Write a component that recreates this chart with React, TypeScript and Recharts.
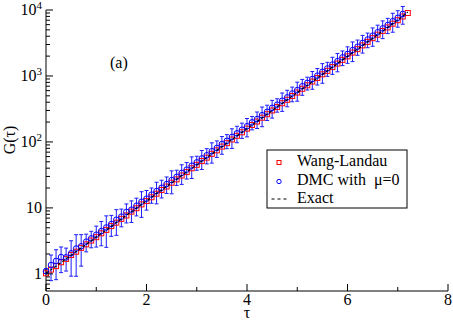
import React from "react";
import { ScatterChart, Scatter, XAxis, YAxis, ErrorBar } from "recharts";

// imaginary time grid (both Monte Carlo sets)
const tau = [
  0, 0.1, 0.2, 0.3, 0.4, 0.5, 0.6, 0.7, 0.8, 0.9, 1.0, 1.1, 1.2, 1.3, 1.4, 1.5, 1.6, 1.7, 1.8, 1.9,
  2.0, 2.1, 2.2, 2.3, 2.4, 2.5, 2.6, 2.7, 2.8, 2.9, 3.0, 3.1, 3.2, 3.3, 3.4, 3.5, 3.6, 3.7, 3.8, 3.9,
  4.0, 4.1, 4.2, 4.3, 4.4, 4.5, 4.6, 4.7, 4.8, 4.9, 5.0, 5.1, 5.2, 5.3, 5.4, 5.5, 5.6, 5.7, 5.8, 5.9,
  6.0, 6.1, 6.2, 6.3, 6.4, 6.5, 6.6, 6.7, 6.8, 6.9, 7.0, 7.1, 7.2,
];

const wangLandau = [
  1.02, 1.16, 1.31, 1.5, 1.69, 1.93, 2.17, 2.48, 2.8, 3.2, 3.6, 4.12, 4.64, 5.3, 5.97, 6.82, 7.68, 8.78, 9.88, 11.3,
  12.7, 14.5, 16.4, 18.7, 21.1, 24.1, 27.1, 31.0, 34.9, 39.9, 45.0, 51.3, 57.8, 66.0, 74.5, 85.0, 95.8, 109, 124, 140,
  159, 181, 204, 233, 263, 300, 338, 386, 436, 497, 561, 640, 722, 823, 930, 1060, 1196, 1364, 1540, 1755,
  1982, 2260, 2552, 2908, 3285, 3742, 4228, 4817, 5443, 6200, 7003, 7978, 9010,
];

const dmc = [
  1.1, 1.36, 1.57, 1.8, 1.78, 2.05, 2.42, 2.62, 3.08, 3.45, 3.92, 4.45, 5.05, 5.7, 6.62, 7.38, 8.7, 9.4, 10.8, 12.4,
  13.8, 15.9, 18.0, 20.2, 23.0, 26.4, 29.6, 33.9, 38.0, 43.6, 49.0, 56.2, 62.8, 72.3, 81.0, 92.8, 104, 119, 135, 153,
  173, 198, 222, 254, 286, 328, 367, 421, 474, 542, 610, 698, 786, 898, 1012, 1157, 1300, 1488, 1676, 1915,
  2158, 2466, 2778, 3172, 3574, 4082, 4600, 5256, 5925, 6765, 7620, 8700,
];

// half length of each DMC error bar, as a fraction of the value
const dmcRelErr = [
  0.08, 0.42, 0.48, 0.42, 0.38, 0.55, 0.62, 0.5, 0.3, 0.28, 0.35, 0.4, 0.5, 0.35, 0.42, 0.3, 0.32, 0.36, 0.3, 0.42,
  0.33, 0.26, 0.36, 0.3, 0.28, 0.38, 0.26, 0.33, 0.28, 0.36, 0.24, 0.32, 0.26, 0.34, 0.28, 0.3, 0.24, 0.33, 0.28, 0.26,
  0.31, 0.23, 0.28, 0.33, 0.26, 0.3, 0.23, 0.31, 0.28, 0.25, 0.32, 0.27, 0.22, 0.3, 0.28, 0.33, 0.24, 0.29, 0.31, 0.25,
  0.28, 0.33, 0.26, 0.3, 0.25, 0.31, 0.28, 0.3, 0.26, 0.32, 0.28, 0.3,
];

const exactTau = [0, 1, 2, 3, 4, 5, 6, 7, 7.2];
const exactG = [1.02, 3.61, 12.8, 45.1, 159, 562, 1986, 7015, 9300];

const xTicks = [0, 1, 2, 3, 4, 5, 6, 7, 8];
const yTicks = [
  0.6, 0.7, 0.8, 0.9, 1, 2, 3, 4, 5, 6, 7, 8, 9, 10, 20, 30, 40, 50, 60, 70, 80, 90,
  100, 200, 300, 400, 500, 600, 700, 800, 900, 1000, 2000, 3000, 4000, 5000, 6000, 7000, 8000, 9000, 10000,
];

const wlRows = wangLandau.map((g, i) => ({ t: tau[i], g }));
const dmcRows = dmc.map((g, i) => ({ t: tau[i], g, err: g * dmcRelErr[i] }));
const exactRows = exactG.map((g, i) => ({ t: exactTau[i], g }));

const FONT = "'Liberation Serif', 'DejaVu Serif', 'Times New Roman', Times, serif";
const txt = { fontFamily: FONT, fontSize: 16, fill: "#000" };
const W = 453;
const H = 321;

const isMajor = (v: number) => {
  const l = Math.log10(v);
  return Math.abs(l - Math.round(l)) < 1e-9;
};

function LeftTick({ x, y, payload }: any) {
  const v = payload.value;
  const major = isMajor(v);
  const k = Math.round(Math.log10(v));
  return (
    <g>
      <line x1={x} x2={x + (major ? 7 : 4)} y1={y} y2={y} stroke="#000" />
      {major && (
        <text x={x - 4} y={y + 5} textAnchor="end" style={txt}>
          {k === 0 ? "1" : k === 1 ? "10" : (
            <>
              10<tspan dy={-6} style={{ fontSize: 11 }}>{k}</tspan>
            </>
          )}
        </text>
      )}
    </g>
  );
}

function RightTick({ x, y, payload }: any) {
  const major = isMajor(payload.value);
  return <line x1={x} x2={x - (major ? 7 : 4)} y1={y} y2={y} stroke="#000" />;
}

function BottomTick({ x, y, payload }: any) {
  const major = payload.value % 2 === 0;
  return (
    <g>
      <line x1={x} x2={x} y1={y} y2={y - (major ? 7 : 4)} stroke="#000" />
      {major && (
        <text x={x} y={y + 14} textAnchor="middle" style={txt}>
          {payload.value}
        </text>
      )}
    </g>
  );
}

function TopTick({ x, y, payload }: any) {
  const major = payload.value % 2 === 0;
  return <line x1={x} x2={x} y1={y} y2={y + (major ? 7 : 4)} stroke="#000" />;
}

const RedSquare = ({ cx, cy }: any) => (
  <rect x={cx - 2.5} y={cy - 2.5} width={5} height={5} fill="none" stroke="#ff0000" strokeWidth={1} />
);

const BlueCircle = ({ cx, cy }: any) => (
  <circle cx={cx} cy={cy} r={2.8} fill="none" stroke="#0000ff" strokeWidth={1} />
);

const NoDot = () => <g />;

export default function App() {
  return (
    <div style={{ position: "absolute", left: 0, top: 0, width: W, height: H, background: "#fff" }}>
      <ScatterChart width={W} height={H} margin={{ top: 10, right: 5, bottom: 0, left: 0 }}>
        <XAxis
          type="number"
          dataKey="t"
          domain={[0, 8]}
          ticks={xTicks}
          interval={0}
          height={30}
          tickSize={0}
          tickMargin={0}
          tickLine={false}
          axisLine={{ stroke: "#000" }}
          tick={<BottomTick />}
        />
        <XAxis
          xAxisId="top"
          orientation="top"
          type="number"
          domain={[0, 8]}
          ticks={xTicks}
          interval={0}
          height={0}
          tickSize={0}
          tickMargin={0}
          tickLine={false}
          axisLine={{ stroke: "#000" }}
          tick={<TopTick />}
        />
        <YAxis
          type="number"
          dataKey="g"
          scale="log"
          domain={[0.55, 10000]}
          allowDataOverflow
          ticks={yTicks}
          interval={0}
          width={46}
          tickSize={0}
          tickMargin={0}
          tickLine={false}
          axisLine={{ stroke: "#000" }}
          tick={<LeftTick />}
        />
        <YAxis
          yAxisId="right"
          orientation="right"
          type="number"
          scale="log"
          domain={[0.55, 10000]}
          allowDataOverflow
          ticks={yTicks}
          interval={0}
          width={0}
          tickSize={0}
          tickMargin={0}
          tickLine={false}
          axisLine={{ stroke: "#000" }}
          tick={<RightTick />}
        />
        <Scatter data={wlRows} shape={RedSquare} isAnimationActive={false} />
        <Scatter data={dmcRows} shape={BlueCircle} isAnimationActive={false}>
          <ErrorBar dataKey="err" direction="y" width={2} stroke="#1c1cff" strokeWidth={1} />
        </Scatter>
        <Scatter
          data={exactRows}
          shape={NoDot}
          line={{ stroke: "#000", strokeWidth: 1.2, strokeDasharray: "3 2" }}
          lineType="joint"
          isAnimationActive={false}
        />
      </ScatterChart>
      <svg
        width={W}
        height={H}
        style={{ position: "absolute", left: 0, top: 0, pointerEvents: "none" }}
      >
        <text x={110} y={68} style={txt}>(a)</text>
        <text x={247} y={317.5} textAnchor="middle" style={txt}>τ</text>
        <text x={15} y={140} textAnchor="middle" transform="rotate(-90 15 140)" style={txt}>G(τ)</text>
        <rect x={267} y={150} width={140} height={58} fill="#fff" stroke="#000" />
        <rect x={277} y={160.5} width={4} height={4} fill="none" stroke="#ff0000" />
        <text x={297} y={166} style={txt}>Wang-Landau</text>
        <circle cx={279} cy={181.5} r={2.2} fill="none" stroke="#0000ff" />
        <text x={297} y={185} style={{ ...txt, whiteSpace: "pre" }}>DMC with  μ=0</text>
        <line x1={271.5} x2={288} y1={199} y2={199} stroke="#000" strokeDasharray="3 3" />
        <text x={297} y={203} style={txt}>Exact</text>
      </svg>
    </div>
  );
}
